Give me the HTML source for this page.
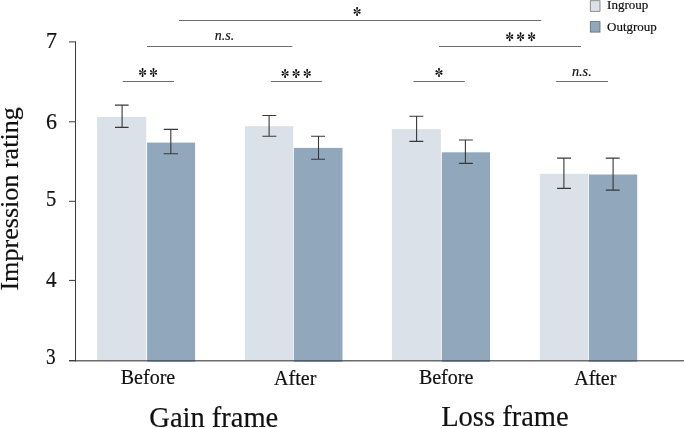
<!DOCTYPE html>
<html><head><meta charset="utf-8">
<style>
html,body{margin:0;padding:0;background:#fff;}
svg{display:block;will-change:transform;}
text{font-family:"Liberation Serif",serif;fill:#111;stroke:#111;stroke-width:0.2px;}
</style></head><body>
<svg width="685" height="428" viewBox="0 0 685 428">
<rect width="685" height="428" fill="#fff"/>
<!-- bars -->
<g>
<rect x="97.1" y="116.9" width="49.2" height="244.1" fill="#dae1e8"/>
<rect x="147.1" y="142.6" width="48" height="218.4" fill="#90a7bc"/>
<rect x="244.9" y="126.2" width="48.3" height="234.8" fill="#dae1e8"/>
<rect x="293.9" y="147.9" width="48.6" height="213.1" fill="#90a7bc"/>
<rect x="391.9" y="129.1" width="49" height="231.9" fill="#dae1e8"/>
<rect x="441.8" y="152.3" width="48.2" height="208.7" fill="#90a7bc"/>
<rect x="539.9" y="173.8" width="48.2" height="187.2" fill="#dae1e8"/>
<rect x="588.9" y="174.5" width="48.3" height="186.5" fill="#90a7bc"/>
</g>
<!-- axes -->
<g fill="none">
<path d="M76 360.75 H684" stroke="#6c6c6c" stroke-width="1.4"/>
<path d="M147.1 360.75 H195.1 M293.9 360.75 H342.5 M441.8 360.75 H490 M588.9 360.75 H637.2" stroke="#4a5b6e" stroke-width="1.4"/>
<g stroke="#3a3a3a" stroke-width="1">
<path d="M75.5 41.4 V361.4"/>
<path d="M69 360.7 H76" stroke-width="1.4"/>
<path d="M69 41.9 H75.5 M69 121.8 H75.5 M69 201.3 H75.5 M69 280.4 H75.5"/>
</g>
</g>
<!-- error bars -->
<g stroke="#383838" stroke-width="1.1" fill="none">
<path d="M122.1 105.1 V127.4 M115 105.1 H128.6 M115 127.4 H128.6"/>
<path d="M170.8 129.4 V153.8 M163.7 129.4 H178 M163.7 153.8 H178"/>
<path d="M269.1 115.5 V136.3 M262.4 115.5 H276.3 M262.4 136.3 H276.3"/>
<path d="M318.5 136.3 V159.3 M311.1 136.3 H325 M311.1 159.3 H325"/>
<path d="M416.6 116.3 V141.4 M409.4 116.3 H423.3 M409.4 141.4 H423.3"/>
<path d="M465.4 140 V163.4 M458.9 140 H472.8 M458.9 163.4 H472.8"/>
<path d="M563.9 158.1 V188.4 M557.1 158.1 H571 M557.1 188.4 H571"/>
<path d="M613.1 158.1 V190.1 M605.8 158.1 H619.7 M605.8 190.1 H619.7"/>
</g>
<!-- sig lines -->
<g stroke="#6e6e6e" stroke-width="1" fill="none">
<path d="M179 20.5 H541.2"/>
<path d="M147 46.5 H292.3"/>
<path d="M439 46.5 H581"/>
<path d="M122.8 81.5 H174"/>
<path d="M270.8 81.5 H321.9"/>
<path d="M413.4 81.5 H464.8"/>
<path d="M556.2 81.5 H608"/>
</g>
<!-- sig text -->
<defs>
<g id="ast" fill="#111">
<path id="armv" d="M0,0.3 C0.3,-1.3 0.95,-2.7 0.95,-3.5 C0.95,-4.1 0.5,-4.5 0,-4.5 C-0.5,-4.5 -0.95,-4.1 -0.95,-3.5 C-0.95,-2.7 -0.3,-1.3 0,0.3 Z"/>
<use href="#armv" transform="rotate(180)"/>
<path id="armd" d="M0,0.3 C0.3,-1.1 0.95,-2.2 0.95,-3.0 C0.95,-3.6 0.5,-3.95 0,-3.95 C-0.5,-3.95 -0.95,-3.6 -0.95,-3.0 C-0.95,-2.2 -0.3,-1.1 0,0.3 Z" transform="rotate(62)"/>
<use href="#armd" transform="rotate(56)"/>
<use href="#armd" transform="rotate(180)"/>
<use href="#armd" transform="rotate(236)"/>
</g>
</defs>
<use href="#ast" x="357.1" y="11.4"/>
<use href="#ast" x="509.7" y="36.7"/><use href="#ast" x="520.6" y="36.7"/><use href="#ast" x="531.6" y="36.7"/>
<use href="#ast" x="142.6" y="72.4"/><use href="#ast" x="153.5" y="72.4"/>
<use href="#ast" x="285.1" y="73.4"/><use href="#ast" x="296.1" y="73.4"/><use href="#ast" x="307.2" y="73.4"/>
<use href="#ast" x="439" y="72.5"/>
<g text-anchor="middle" font-size="15" font-style="italic" stroke="#111" stroke-width="0.25">
<text transform="translate(224.5,40.1) scale(0.93,1)">n.s.</text>
<text transform="translate(581.8,75.9) scale(0.95,1)">n.s.</text>
</g>
<!-- y tick labels -->
<g font-size="23.4" text-anchor="end">
<text transform="translate(56.9,48) scale(0.94,1)">7</text>
<text transform="translate(56.9,129) scale(0.94,1)">6</text>
<text transform="translate(56.2,205.6) scale(0.875,1)">5</text>
<text transform="translate(56.6,287.1) scale(0.94,1)" font-size="22.4">4</text>
<text transform="translate(55.6,363.5) scale(0.82,1)">3</text>
</g>
<text transform="translate(18.2,198.9) rotate(-90)" font-size="26.1" text-anchor="middle">Impression rating</text>
<!-- x labels -->
<g font-size="20" text-anchor="middle">
<text x="148" y="383.5">Before</text>
<text x="295.2" y="384.9">After</text>
<text x="446.1" y="383.5">Before</text>
<text x="595.3" y="384.9">After</text>
</g>
<g font-size="28.5" text-anchor="middle">
<text x="213.8" y="426.7">Gain frame</text>
<text x="504.9" y="426.4">Loss frame</text>
</g>
<!-- legend -->
<rect x="590.3" y="0.7" width="9.7" height="10.6" fill="#dae1e8" stroke="#777" stroke-width="0.8"/>
<rect x="590.3" y="21.6" width="9.7" height="10.5" fill="#90a7bc" stroke="#5f6b78" stroke-width="0.8"/>
<text x="607.1" y="9.3" font-size="13">Ingroup</text>
<text x="607" y="31.4" font-size="13">Outgroup</text>
</svg>
</body></html>
